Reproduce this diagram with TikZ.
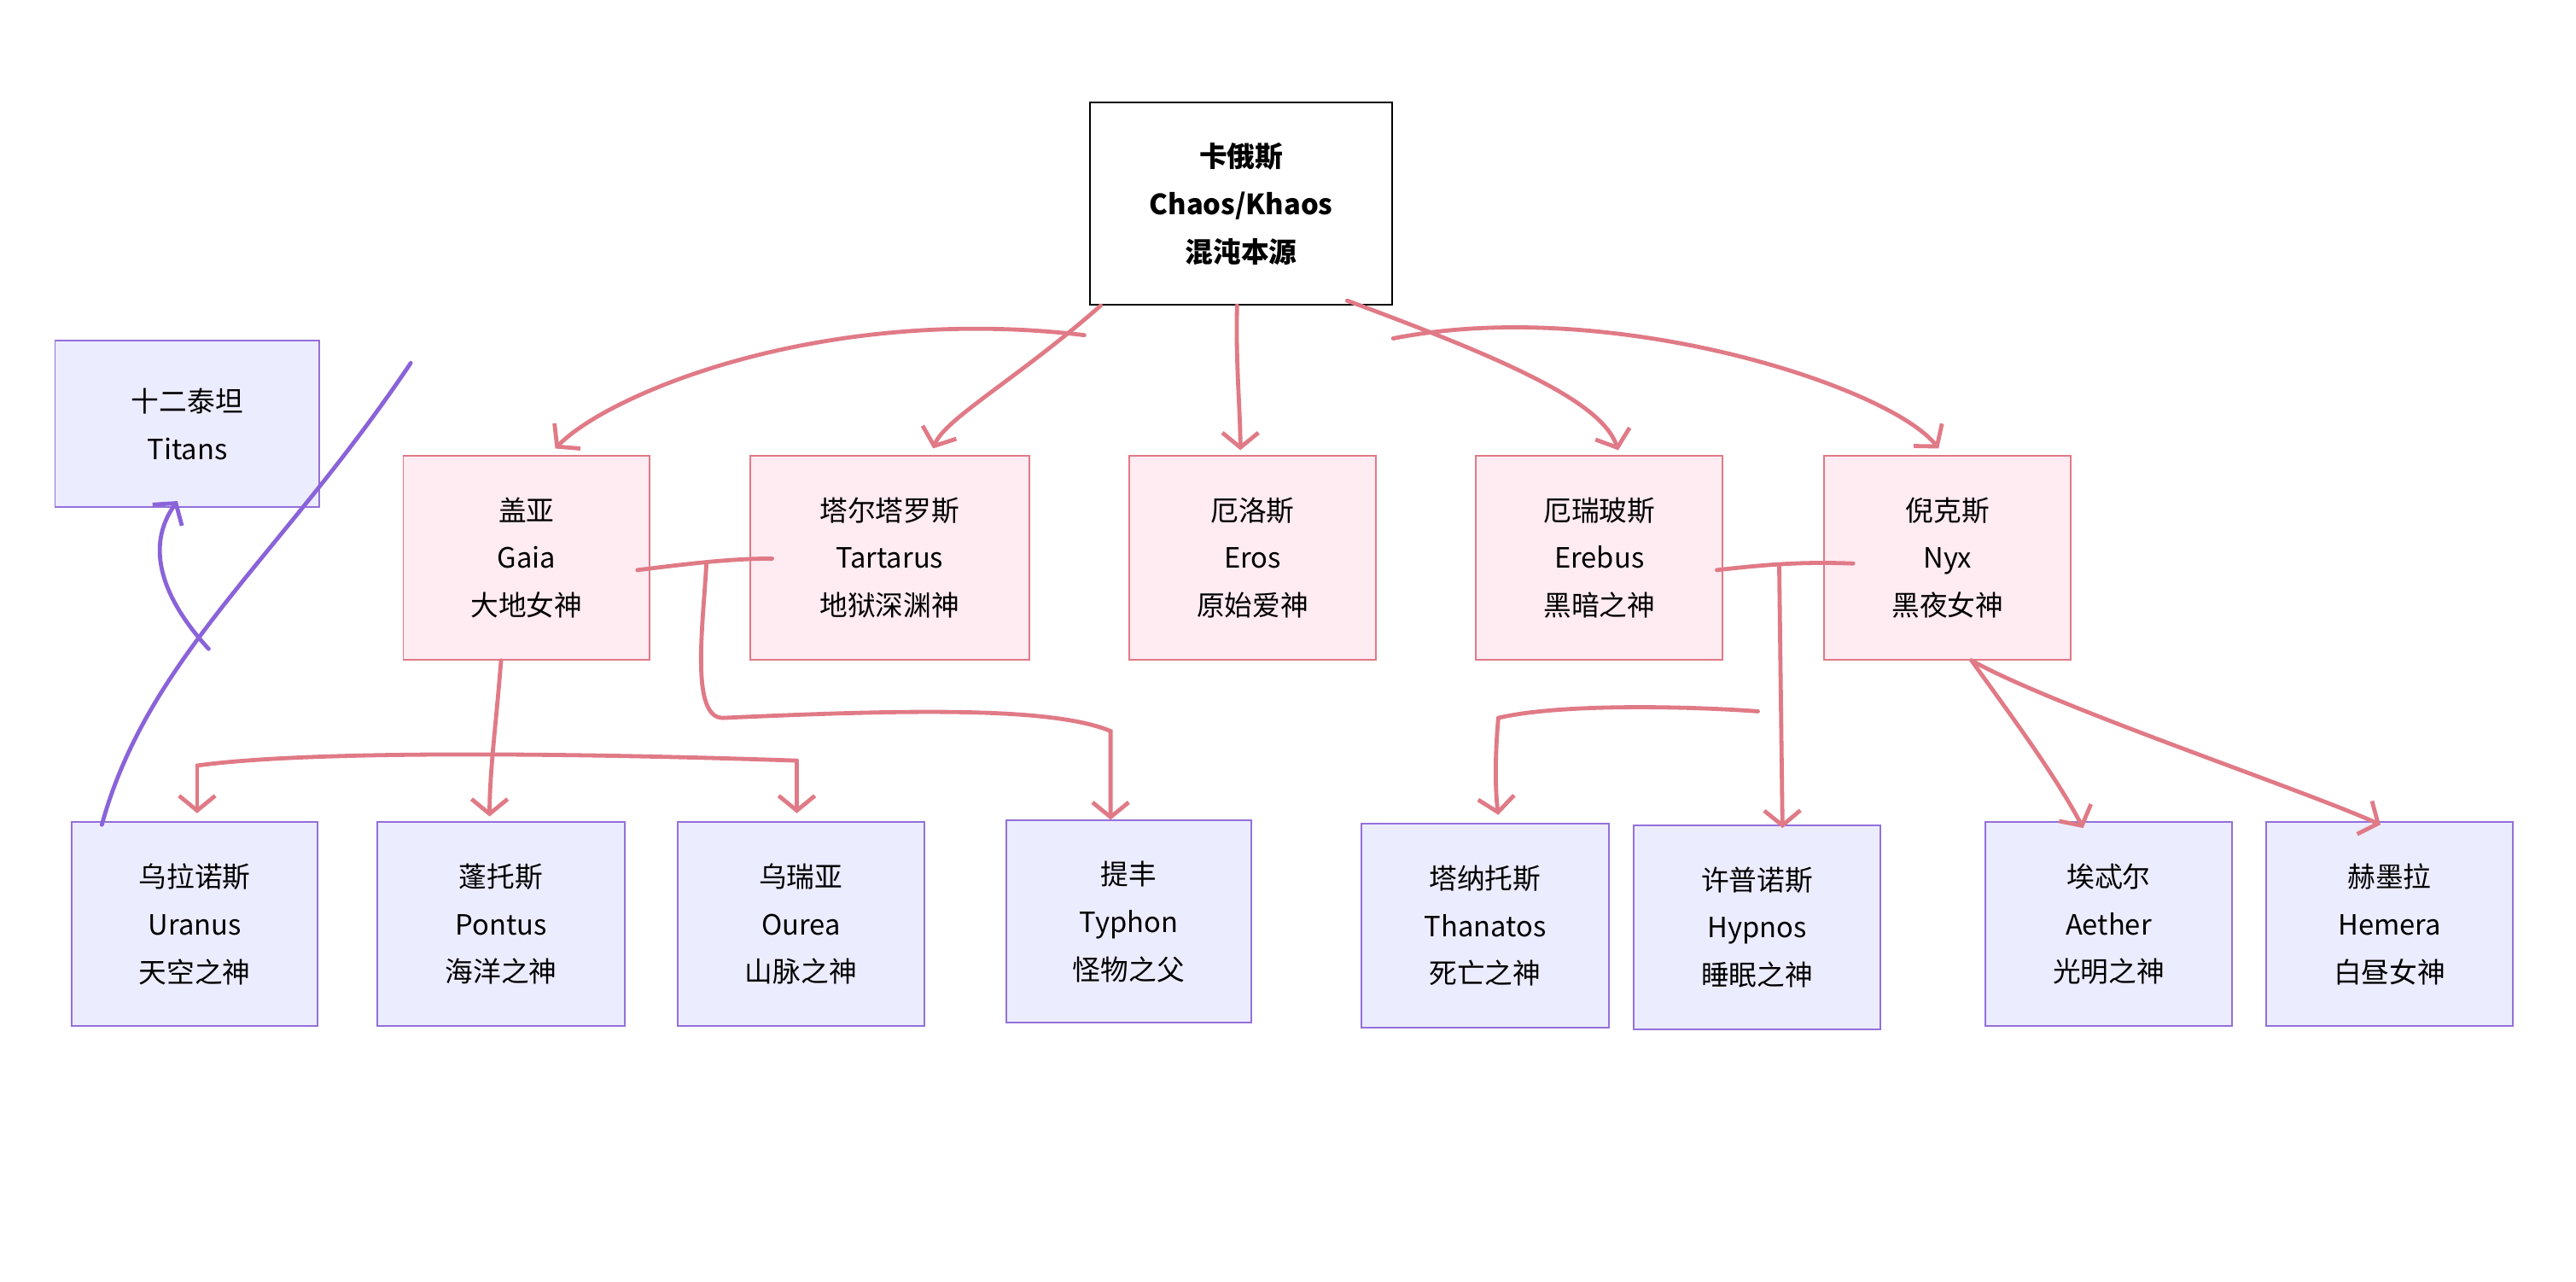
\documentclass[tikz,border=0pt]{standalone}
\usepackage{fontspec}
\setmainfont{Noto Sans CJK SC}
\usetikzlibrary{arrows.meta}
\definecolor{pk}{HTML}{E07A86}
\definecolor{pkfill}{HTML}{FFEBF2}
\definecolor{lv}{HTML}{ECECFF}
\definecolor{lvb}{HTML}{9370DB}
\definecolor{pu}{HTML}{8A63D9}
\begin{document}
\begin{tikzpicture}[x=1pt,y=-1pt,
 box/.style={draw,line width=1pt,minimum width=150pt,minimum height=124pt,align=center,font=\fontsize{17}{29}\selectfont,anchor=north west,inner sep=0pt},
 lav/.style={box,fill=lv,draw=lvb},
 pink/.style={box,fill=pkfill,draw=pk},
 e/.style={draw=pk,line width=2.5pt,line cap=round},
 a/.style={e,-{Straight Barb[length=9pt,width=22pt,line width=2.5pt]}},
 p/.style={draw=pu,line width=2.5pt,line cap=round}]
\useasboundingbox (0,0) rectangle (1568,780);
\node[box,fill=white,draw=black,minimum width=184pt,minimum height=123pt,font=\bfseries\fontsize{17}{29}\selectfont] (chaos) at (663,62) {卡俄斯\\Chaos/Khaos\\混沌本源};
\node[lav,minimum width=161pt,minimum height=101pt] (titans) at (33,207) {十二泰坦\\Titans};
\node[pink] (gaia) at (245,277) {盖亚\\Gaia\\大地女神};
\node[pink,minimum width=170pt] (tart) at (456,277) {塔尔塔罗斯\\Tartarus\\地狱深渊神};
\node[pink] (eros) at (687,277) {厄洛斯\\Eros\\原始爱神};
\node[pink] (erebus) at (898,277) {厄瑞玻斯\\Erebus\\黑暗之神};
\node[pink] (nyx) at (1110,277) {倪克斯\\Nyx\\黑夜女神};
\node[lav] (uranus) at (43,500) {乌拉诺斯\\Uranus\\天空之神};
\node[lav,minimum width=151pt] (pontus) at (229,500) {蓬托斯\\Pontus\\海洋之神};
\node[lav] (ourea) at (412,500) {乌瑞亚\\Ourea\\山脉之神};
\node[lav,minimum width=149pt,minimum height=123pt] (typhon) at (612,499) {提丰\\Typhon\\怪物之父};
\node[lav,minimum width=151pt] (thanatos) at (828,501) {塔纳托斯\\Thanatos\\死亡之神};
\node[lav] (hypnos) at (994,502) {许普诺斯\\Hypnos\\睡眠之神};
\node[lav] (aether) at (1208,500) {埃忒尔\\Aether\\光明之神};
\node[lav] (hemera) at (1379,500) {赫墨拉\\Hemera\\白昼女神};
% Chaos edges
\draw[a] ([xshift=-3pt,yshift=-18pt]chaos.south west) .. controls (500,185) and (370,240) .. ([xshift=93pt,yshift=4pt]gaia.north west);
\draw[a] ([xshift=7pt]chaos.south west) .. controls (620,230) and (575,255) .. ([xshift=112pt,yshift=4pt]tart.north west);
\draw[a] ([xshift=90pt]chaos.south west) .. controls (752,220) and (755,250) .. ([xshift=68pt,yshift=3pt]eros.north west);
\draw[a] ([xshift=157pt,yshift=3pt]chaos.south west) .. controls (920,220) and (975,245) .. ([xshift=87pt,yshift=3pt]erebus.north west);
\draw[a] ([yshift=-20pt]chaos.south east) .. controls (980,180) and (1150,235) .. ([xshift=70pt,yshift=4pt]nyx.north west);
% Gaia/Tartarus
\draw[e] (388,347) .. controls (420,343) and (445,340) .. (470,340);
\coordinate (gt) at (430,343);
\draw[a] (gt) .. controls (428,380) and (420,437) .. (440,437) .. controls (550,432) and (640,430) .. (676,445) -- (typhon.north -| 676,0);
\draw[a] ([xshift=60pt]gaia.south west) .. controls (302,440) and (298,470) .. ([xshift=69pt,yshift=3pt]pontus.north west);
\coordinate (gl) at (120,466);
\draw[e] (gl) .. controls (200,455) and (400,460) .. (485,463);
\draw[a] (gl) -- ([xshift=77pt,yshift=5pt]uranus.north west);
\draw[a] (485,463) -- ([xshift=73pt,yshift=5pt]ourea.north west);
% Titans
\draw[p] ([xshift=19pt,yshift=-2pt]uranus.north west) .. controls (90,400) and (170,340) .. ([xshift=5pt,yshift=56pt]gaia.north west);
\draw[p,-{Straight Barb[length=9pt,width=22pt,line width=2.5pt]}] (127,395) .. controls (95,360) and (90,330) .. ([xshift=75pt,yshift=4pt]titans.south west);
% Erebus/Nyx
\draw[e] (1045,347) .. controls (1080,343) and (1100,342) .. (1128,343);
\draw[a] (1083,345) -- ([xshift=91pt,yshift=-2pt]hypnos.north west);
\draw[e] (912,437) .. controls (950,428) and (1030,430) .. (1070,433);
\draw[a] (912,437) .. controls (910,460) and (910,480) .. ([xshift=84pt,yshift=5pt]thanatos.north west);
\draw[a] ([xshift=90pt]nyx.south west) .. controls (1220,430) and (1250,470) .. ([xshift=60pt,yshift=-4pt]aether.north west);
\draw[a] ([xshift=90pt]nyx.south west) .. controls (1250,430) and (1400,480) .. ([xshift=70pt,yshift=-2pt]hemera.north west);
\end{tikzpicture}
\end{document}
